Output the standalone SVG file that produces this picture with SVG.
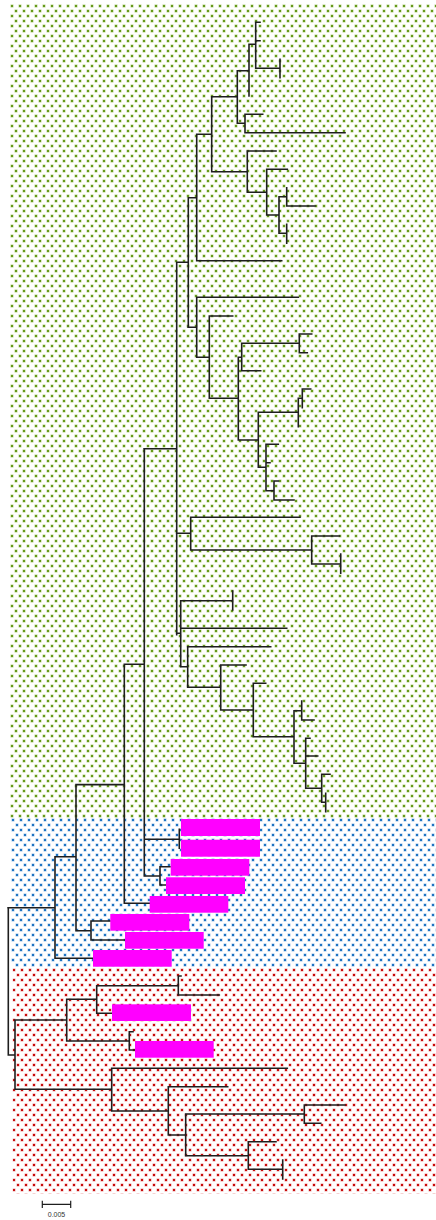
<svg xmlns="http://www.w3.org/2000/svg" width="436" height="1220" viewBox="0 0 436 1220">
<style>
.e{fill:none;stroke:#1e1e1e;stroke-width:1.6;stroke-linecap:square}
.bar{fill:#ff00ff}
.lbl{font-family:"Liberation Sans",Arial,sans-serif;font-size:7px;fill:#333333}
</style>
<defs>
<pattern id="pg" width="8" height="10" patternUnits="userSpaceOnUse" x="10" y="4">
<rect x="0.5" y="0.5" width="3" height="3" fill="#b9d48f"/>
<rect x="4.5" y="5.5" width="3" height="3" fill="#b9d48f"/>
<rect x="1" y="1" width="2" height="2" fill="#669a1c"/>
<rect x="5" y="6" width="2" height="2" fill="#669a1c"/>
</pattern>
<pattern id="pb" width="8" height="10" patternUnits="userSpaceOnUse" x="11" y="818">
<rect x="0.5" y="0.5" width="3" height="3" fill="#9fc4e8"/>
<rect x="4.5" y="5.5" width="3" height="3" fill="#9fc4e8"/>
<rect x="1" y="1" width="2" height="2" fill="#1f74c2"/>
<rect x="5" y="6" width="2" height="2" fill="#1f74c2"/>
</pattern>
<pattern id="pr" width="8" height="10" patternUnits="userSpaceOnUse" x="12" y="968">
<rect x="0.5" y="0.5" width="3" height="3" fill="#eba3a3"/>
<rect x="4.5" y="5.5" width="3" height="3" fill="#eba3a3"/>
<rect x="1" y="1" width="2" height="2" fill="#c80e0e"/>
<rect x="5" y="6" width="2" height="2" fill="#c80e0e"/>
</pattern>
</defs>
<rect width="436" height="1220" fill="#ffffff"/>
<g id="clade-green"><rect x="10" y="4" width="426" height="814" fill="url(#pg)"/></g>
<g id="clade-blue"><rect x="11" y="818" width="425" height="150" fill="url(#pb)"/></g>
<g id="clade-red"><rect x="12.5" y="968" width="423.5" height="226" fill="url(#pr)"/></g>
<g id="connectors" class="e">
<path d="M176.7,262.3V634.6M144.3,448.8H176.7M176.7,262.3H188.3M188.3,197.7V327.3M188.3,197.7H196.7M196.7,134.3V260.7H281.7M196.7,134.3H211.7M211.7,96.7V171.7M211.7,96.7H237.3M237.3,70.7V123.3M237.3,70.7H249M249,44.3V96M249,44.3H255.7M255.7,22.3V68.3H280M255.7,22.3H260M255.7,40.7H260M280,59.3V77.7M237.3,123.3H245M245,114.3V132.7M245,114.3H262.7M245,132.7H345M211.7,171.7H247.3M247.3,151V192.3M247.3,151H276M247.3,192.3H266.7M266.7,169.3V215M266.7,169.3H287.3M266.7,215H279M279,196.7V233.3M279,196.7H286.7M286.7,187.7V206H315M279,233.3H286.7M286.7,224.3V243.3"/>
<path d="M188.3,327.3H196.7M196.7,297.3V357.3M196.7,297.3H298.3M196.7,357.3H209.3M209.3,316V398.3M209.3,316H232.7M209.3,398.3H238.3M238.3,357.3V440M238.3,357.3H241.7M241.7,343.3V370.7M241.7,343.3H299.3M299.3,334V352.7M299.3,334H311.7M299.3,352.7H307.3M241.7,370.7H260.7M238.3,440H258.3M258.3,412.3V467.3M258.3,412.3H298.3M298.3,398.3V426.7M298.3,398.3H302.3M302.3,389V407.7M302.3,389H310.7M258.3,467.3H266M266,444.3V490.7M266,444.3H278.3M266,462.7H270M266,490.7H274M274,481V500M274,481H278.3M274,500H294"/>
<path d="M176.7,533.3H190.7M190.7,517.3V550M190.7,517.3H300M190.7,550H311.7M311.7,536V564M311.7,536H339.3M311.7,564H340.7M340.7,554V573.3"/>
<path d="M176.7,633.3H180.7M180.7,600.7V666.7M180.7,600.7H232.7M232.7,591V610M180.7,628.3H286.7M180.7,666.7H187.7M187.7,646.7V687.3M187.7,646.7H270.7M187.7,687.3H220.7M220.7,665V710M220.7,665H246M220.7,710H253.3M253.3,683.3V736.7M253.3,683.3H265.7M253.3,736.7H294M294,710.7V763.3M294,710.7H301.7M301.7,701V720M301.7,720H314M294,763.3H305.7M305.7,738.3V788.3M305.7,738.3H310M305.7,756H317.7M305.7,788.3H321.7M321.7,774.3V802.3M321.7,774.3H330M321.7,802.3H325.7M325.7,793.3V811.7"/>
<path d="M144.3,448.8V876M144.3,839.3H179.3M179.3,829.3V848.3M144.3,876H160M160,866.7V885M160,866.7H170M160,885H166M124.3,664.2H144.3M124.3,664.2V903.3H149.7M76,784.6H124.3M76,784.6V930.7H91M91,921V940M91,921H110M91,940H125M55,856.7H76M55,856.7V958.3H93M8.3,907.7H55"/>
<path d="M8.3,907.7V1055H15M15,1020V1089.3M15,1020H66.7M66.7,999.3V1041M66.7,999.3H96.7M96.7,985.7V1013.3H112M96.7,985.7H178.3M178.3,976V995H219.3M178.3,976H181M66.7,1041H129.3M129.3,1031.7V1050H135M129.3,1031.7H133M15,1089.3H111.7M111.7,1068.3V1111M111.7,1068.3H287.3M111.7,1111H168.3M168.3,1086.7V1135M168.3,1086.7H227.7M168.3,1135H185.7M185.7,1114V1155.7M185.7,1114H304.3M304.3,1105V1123.3M304.3,1105H345M304.3,1123.3H320.7M185.7,1155.7H248.3M248.3,1141.7V1169.3M248.3,1141.7H276M248.3,1169.3H282.7M282.7,1160V1179"/>
</g>
<g id="leaf-1"><rect class="bar" x="181" y="819" width="79" height="17"/></g>
<g id="leaf-2"><rect class="bar" x="181" y="839.7" width="79" height="17"/></g>
<g id="leaf-3"><rect class="bar" x="170.7" y="859" width="78.6" height="16.7"/></g>
<g id="leaf-4"><rect class="bar" x="166" y="877.3" width="79" height="16.7"/></g>
<g id="leaf-5"><rect class="bar" x="149.7" y="896" width="78.6" height="16.7"/></g>
<g id="leaf-6"><rect class="bar" x="110.3" y="914" width="79" height="16.7"/></g>
<g id="leaf-7"><rect class="bar" x="125" y="932" width="78.7" height="16.7"/></g>
<g id="leaf-8"><rect class="bar" x="93" y="950" width="78.7" height="16.7"/></g>
<g id="leaf-9"><rect class="bar" x="112" y="1004.3" width="79" height="16.7"/></g>
<g id="leaf-10"><rect class="bar" x="135" y="1041" width="78.7" height="16.7"/></g>
<g id="scale-bar">
<path class="e" d="M42.3,1204.3H70.7M42.3,1201.3V1207.3M70.7,1201.3V1207.3" style="stroke-width:1.2"/>
<text class="lbl" x="56.5" y="1217" text-anchor="middle">0.005</text>
</g>
</svg>
